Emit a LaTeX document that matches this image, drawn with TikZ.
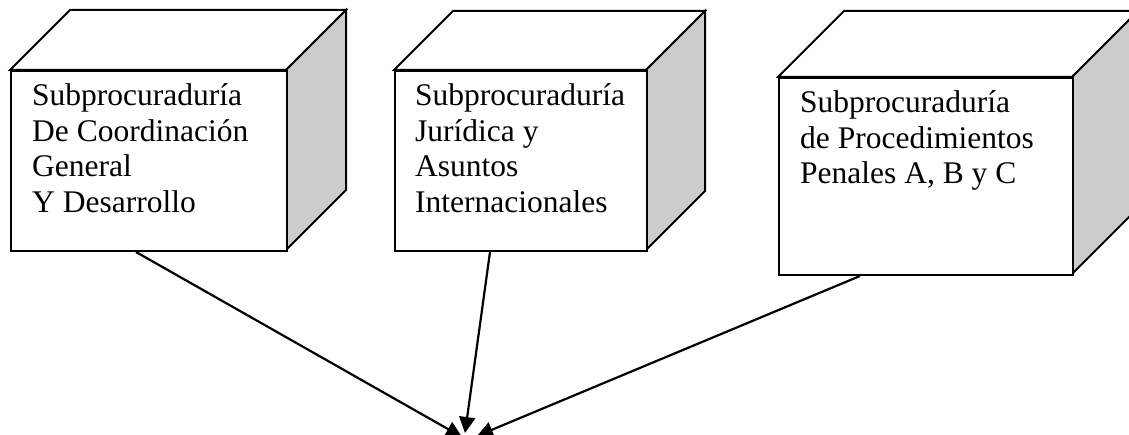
\documentclass[tikz,border=0pt]{standalone}
\usepackage{fontspec}
\setmainfont{Liberation Serif}
\usetikzlibrary{arrows.meta}
\definecolor{sidegray}{RGB}{204,204,204}
\tikzset{
  face/.style={draw, line width=2pt, fill=white, inner sep=0pt, anchor=north west},
  side/.style={draw, line width=2pt, fill=sidegray, line join=miter},
  top/.style={draw, line width=2pt, fill=white, line join=miter},
  txt/.style={inner sep=0pt, anchor=north west, align=left, font=\fontsize{31.5}{35.6}\selectfont},
  conn/.style={line width=2.2pt, -{Triangle[length=16pt,width=16pt]}}
}
\begin{document}
\begin{tikzpicture}[x=1pt,y=-1pt]
\useasboundingbox (0,0) rectangle (1129,435);
\clip (0,0) rectangle (1129,435);
% box 1
\draw[top] (10,70) -- (70,10) -- (346,10) -- (286,70) -- cycle;
\draw[side] (286,70) -- (346,10) -- (346,190) -- (286,250) -- cycle;
\node[face, minimum width=276pt, minimum height=180pt] (b1) at (10,70) {};
\node[txt] (t1) at (32,83.5) {Subprocuraduría\\De Coordinación\\General\\Y Desarrollo};
% box 2
\draw[top] (394,70) -- (453,11) -- (705,11) -- (646,70) -- cycle;
\draw[side] (646,70) -- (705,11) -- (705,191) -- (646,250) -- cycle;
\node[face, minimum width=252pt, minimum height=180pt] (b2) at (394,70) {};
\node[txt] (t2) at (415,83.5) {Subprocuraduría\\Jurídica y\\Asuntos\\Internacionales};
% box 3
\draw[top] (778,77) -- (844,11) -- (1138,11) -- (1072,77) -- cycle;
\draw[side] (1072,77) -- (1138,11) -- (1138,208) -- (1072,274) -- cycle;
\node[face, minimum width=294pt, minimum height=197pt] (b3) at (778,77) {};
\node[txt] (t3) at (800,90.5) {Subprocuraduría\\de Procedimientos\\Penales A, B y C};
% targets
\coordinate (e1) at (462,437);
\coordinate (e2) at (465,433);
\coordinate (e3) at (477,436);
\draw[conn] ([xshift=126pt]b1.south west) -- (e1);
\draw[conn] ([xshift=96pt]b2.south west) -- (e2);
\draw[conn] ([xshift=82pt]b3.south west) -- (e3);
\end{tikzpicture}
\end{document}
